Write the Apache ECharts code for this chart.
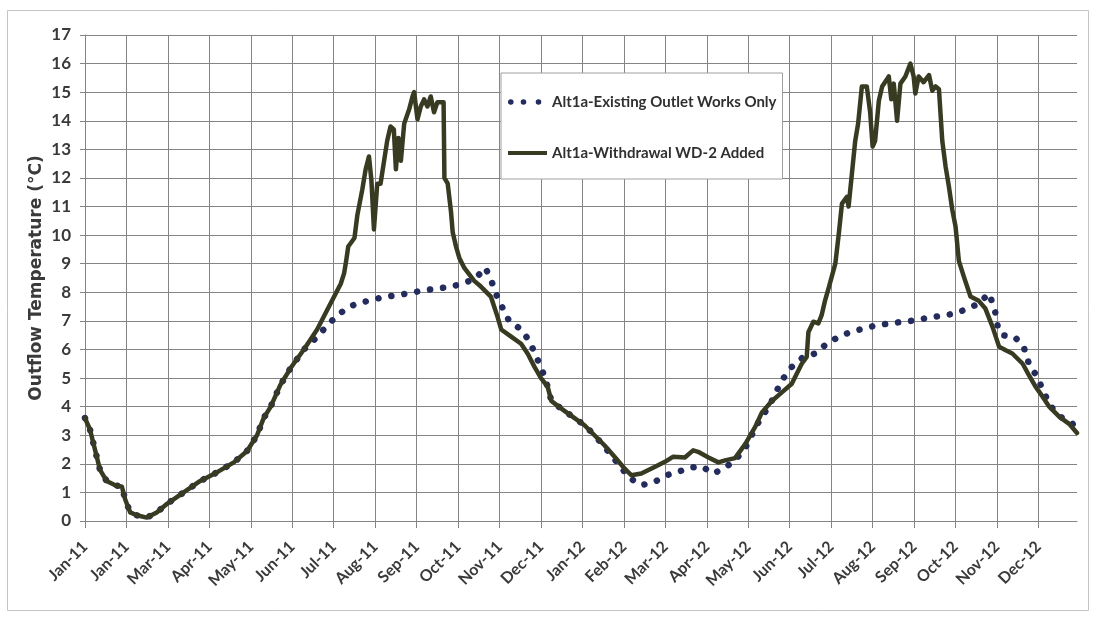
<!DOCTYPE html>
<html>
<head>
<meta charset="utf-8">
<title>Outflow Temperature</title>
<script src="https://cdn.jsdelivr.net/npm/echarts@6/dist/echarts.min.js"></script>
<style>
  html, body { margin: 0; padding: 0; background: #ffffff; }
  #chart { width: 1096px; height: 621px; }
</style>
</head>
<body>
<div id="chart"></div>
<script>
// Month tick labels (one per tick, x = month index from the start of 2011)
const tickLabels = [
  'Jan-11', 'Jan-11', 'Mar-11', 'Apr-11', 'May-11', 'Jun-11', 'Jul-11', 'Aug-11',
  'Sep-11', 'Oct-11', 'Nov-11', 'Dec-11', 'Jan-12', 'Feb-12', 'Mar-12', 'Apr-12',
  'May-12', 'Jun-12', 'Jul-12', 'Aug-12', 'Sep-12', 'Oct-12', 'Nov-12', 'Dec-12'
];

const seriesNames = ['Alt1a-Existing Outlet Works Only', 'Alt1a-Withdrawal WD-2 Added'];

// [month index, outflow temperature °C]
const existingOutlet = [
  [0, 3.6], [0.12, 3.2], [0.24, 2.5], [0.36, 1.8], [0.52, 1.4], [0.73, 1.25], [0.89, 1.2],
  [0.97, 0.75], [1.09, 0.3], [1.25, 0.2], [1.49, 0.12], [1.73, 0.3], [1.98, 0.6], [2.38, 1.0],
  [2.78, 1.4], [3.18, 1.7], [3.59, 2.05], [3.91, 2.45], [4.15, 3.0], [4.31, 3.6], [4.48, 4.0],
  [4.71, 4.75], [4.96, 5.35], [5.28, 6.0], [5.6, 6.44], [5.85, 6.85], [6.09, 7.2], [6.37, 7.49],
  [6.57, 7.61], [6.89, 7.72], [7.21, 7.84], [7.54, 7.9], [7.86, 7.98], [8.17, 8.07], [8.49, 8.13],
  [8.81, 8.19], [9.11, 8.31], [9.41, 8.47], [9.66, 8.86], [9.82, 8.33], [9.96, 7.78], [10.24, 6.97],
  [10.5, 6.73], [10.72, 6.3], [11.03, 5.27], [11.16, 4.7], [11.25, 4.2], [11.49, 3.93], [11.81, 3.6],
  [12.05, 3.35], [12.29, 3.0], [12.53, 2.6], [12.78, 2.15], [13.0, 1.75], [13.14, 1.5], [13.42, 1.25],
  [13.74, 1.37], [14.03, 1.6], [14.31, 1.72], [14.59, 1.87], [14.87, 1.91], [15.16, 1.66], [15.44, 1.87],
  [15.68, 2.12], [15.92, 2.53], [16.08, 3.0], [16.3, 3.6], [16.5, 4.0], [16.81, 4.92], [17.05, 5.39],
  [17.33, 5.74], [17.62, 5.86], [17.9, 6.21], [18.18, 6.44], [18.48, 6.62], [18.78, 6.73], [19.1, 6.85],
  [19.42, 6.91], [19.73, 6.97], [20.05, 7.02], [20.36, 7.12], [20.67, 7.18], [20.99, 7.26], [21.28, 7.42],
  [21.55, 7.6], [21.81, 7.96], [21.95, 7.37], [22.02, 6.79], [22.13, 6.5], [22.43, 6.44], [22.65, 6.06],
  [22.77, 5.5], [22.97, 5.04], [23.13, 4.5], [23.3, 4.0], [23.54, 3.64], [23.82, 3.41], [23.93, 3.1]
];

const withdrawalWD2 = [
  [0, 3.6], [0.12, 3.2], [0.24, 2.5], [0.36, 1.8], [0.52, 1.4], [0.73, 1.25], [0.89, 1.2],
  [0.97, 0.75], [1.09, 0.3], [1.25, 0.2], [1.49, 0.12], [1.73, 0.3], [1.98, 0.6], [2.38, 1.0],
  [2.78, 1.4], [3.18, 1.7], [3.59, 2.05], [3.91, 2.45], [4.15, 3.0], [4.31, 3.6], [4.48, 4.0],
  [4.71, 4.75], [4.96, 5.35], [5.28, 6.0], [5.6, 6.7], [5.92, 7.6], [6.17, 8.3], [6.25, 8.66],
  [6.3, 9.1], [6.35, 9.6], [6.5, 9.9], [6.57, 10.7], [6.69, 11.6], [6.77, 12.3], [6.85, 12.75],
  [6.91, 11.9], [6.97, 10.2], [7.05, 11.8], [7.13, 11.8], [7.29, 13.3], [7.37, 13.8], [7.45, 13.7],
  [7.5, 12.3], [7.56, 13.4], [7.62, 12.6], [7.7, 13.9], [7.82, 14.4], [7.9, 14.85], [7.94, 15.0],
  [8.02, 14.05], [8.1, 14.5], [8.18, 14.75], [8.26, 14.5], [8.34, 14.85], [8.42, 14.3], [8.5, 14.65],
  [8.65, 14.65], [8.67, 12.0], [8.75, 11.8], [8.83, 10.8], [8.87, 10.1], [8.95, 9.6], [9.03, 9.2],
  [9.15, 8.85], [9.39, 8.4], [9.55, 8.2], [9.79, 7.85], [9.95, 7.15], [10.04, 6.7], [10.28, 6.45],
  [10.52, 6.2], [10.68, 5.85], [10.84, 5.4], [11.0, 5.0], [11.16, 4.7], [11.25, 4.2], [11.49, 3.93],
  [11.81, 3.6], [12.05, 3.35], [12.29, 3.0], [12.53, 2.65], [12.78, 2.24], [13.02, 1.83], [13.18, 1.6],
  [13.42, 1.66], [13.74, 1.89], [13.99, 2.07], [14.19, 2.25], [14.47, 2.22], [14.67, 2.47], [14.79, 2.42],
  [15.04, 2.22], [15.28, 2.05], [15.44, 2.12], [15.68, 2.2], [15.93, 2.7], [16.17, 3.3], [16.33, 3.8],
  [16.57, 4.2], [16.81, 4.5], [17.05, 4.8], [17.13, 5.04], [17.29, 5.5], [17.41, 5.74], [17.45, 6.6],
  [17.57, 6.97], [17.69, 6.91], [17.77, 7.2], [17.85, 7.7], [17.93, 8.1], [18.1, 9.0], [18.18, 10.0],
  [18.26, 11.1], [18.38, 11.34], [18.42, 11.0], [18.5, 12.15], [18.58, 13.3], [18.65, 13.9], [18.74, 15.2],
  [18.86, 15.2], [18.94, 14.3], [19.0, 13.1], [19.06, 13.3], [19.15, 14.7], [19.23, 15.2], [19.39, 15.55],
  [19.45, 14.75], [19.51, 15.3], [19.59, 14.0], [19.67, 15.3], [19.79, 15.55], [19.91, 16.0], [19.99, 15.55],
  [20.03, 14.95], [20.11, 15.55], [20.23, 15.35], [20.36, 15.6], [20.44, 15.05], [20.52, 15.2], [20.6, 15.1],
  [20.68, 13.3], [20.76, 12.4], [20.84, 11.7], [20.92, 10.9], [21.0, 10.3], [21.08, 9.1], [21.2, 8.55],
  [21.36, 7.85], [21.56, 7.7], [21.72, 7.43], [21.89, 6.8], [22.05, 6.1], [22.21, 5.97], [22.37, 5.86],
  [22.62, 5.5], [22.77, 5.1], [22.93, 4.7], [23.1, 4.35], [23.26, 4.0], [23.5, 3.65], [23.74, 3.4],
  [23.93, 3.08]
];

const FONT = 'Lato, "Open Sans", sans-serif';
const TITLE_FONT = '"DejaVu Sans", sans-serif';
const GRID_COLOR = '#858585';
const TEXT_COLOR = '#3a3a3a';
const DOT_COLOR = '#232c5c';
const SOLID_COLOR = '#383b22';

// Legend keys: three round dots, and a thick bar (the leading moves fix the icon box size)
const DOT = (cx) => `M${cx - 2.8},8a2.8,2.8 0 1,0 5.6,0a2.8,2.8 0 1,0 -5.6,0Z`;
const ICON_DOTS = 'path://M0,0M39,16' + DOT(2.8) + DOT(15.5) + DOT(30.5);
const ICON_BAR = 'path://M0,0M39,16M0,6H39V10H0Z';

const chart = echarts.init(document.getElementById('chart'), null, { renderer: 'canvas' });

chart.setOption({
  backgroundColor: '#ffffff',
  animation: false,
  textStyle: { fontFamily: FONT },
  graphic: [{
    type: 'rect',
    shape: { x: 7.5, y: 10.5, width: 1081, height: 600 },
    style: { fill: 'none', stroke: '#c4c4c4', lineWidth: 1 },
    silent: true,
    z: -10
  }],
  grid: { left: 85, right: 19, top: 35, bottom: 100, containLabel: false },
  legend: {
    orient: 'vertical',
    left: 501,
    top: 73,
    padding: [21, 6, 18, 7],
    itemGap: 35,
    itemWidth: 39,
    itemHeight: 16,
    symbolKeepAspect: true,
    backgroundColor: '#ffffff',
    borderColor: '#a0a0a0',
    borderWidth: 1,
    textStyle: { fontFamily: FONT, fontSize: 15, fontWeight: 'bold', color: '#303030' },
    data: [
      { name: seriesNames[0], icon: ICON_DOTS },
      { name: seriesNames[1], icon: ICON_BAR }
    ]
  },
  xAxis: {
    type: 'value',
    min: 0,
    max: 23.93,
    interval: 1,
    axisLine: { show: true, lineStyle: { color: GRID_COLOR, width: 1 } },
    axisTick: { show: true, inside: false, length: 7, lineStyle: { color: GRID_COLOR } },
    splitLine: { show: true, showMaxLine: false, lineStyle: { color: GRID_COLOR, width: 1 } },
    axisLabel: {
      rotate: 45,
      margin: 23,
      fontFamily: FONT,
      fontSize: 16,
      fontWeight: 'bold',
      color: TEXT_COLOR,
      showMaxLabel: false,
      formatter: v => (Number.isInteger(v) && tickLabels[v] !== undefined) ? tickLabels[v] : ''
    }
  },
  yAxis: {
    type: 'value',
    min: 0,
    max: 17,
    interval: 1,
    name: 'Outflow Temperature (°C)',
    nameLocation: 'middle',
    nameGap: 40,
    nameMoveOverlap: false,
    nameTextStyle: { fontFamily: TITLE_FONT, fontSize: 17, fontWeight: 'bold', color: TEXT_COLOR },
    axisLine: { show: true, lineStyle: { color: GRID_COLOR, width: 1 } },
    axisTick: { show: true, inside: false, length: 5, lineStyle: { color: GRID_COLOR } },
    splitLine: { show: true, lineStyle: { color: GRID_COLOR, width: 1 } },
    axisLabel: {
      margin: 14,
      fontFamily: FONT,
      fontSize: 17,
      fontWeight: 'bold',
      color: TEXT_COLOR
    }
  },
  series: [
    {
      name: seriesNames[0],
      type: 'line',
      data: existingOutlet,
      symbol: 'none',
      smooth: false,
      lineStyle: { color: DOT_COLOR, width: 6.5, type: [0.1, 13], cap: 'round' },
      itemStyle: { color: DOT_COLOR },
      z: 2
    },
    {
      name: seriesNames[1],
      type: 'line',
      data: withdrawalWD2,
      symbol: 'none',
      smooth: false,
      lineStyle: { color: SOLID_COLOR, width: 4.5, join: 'round', cap: 'round' },
      itemStyle: { color: SOLID_COLOR },
      z: 3
    }
  ]
});
</script>
</body>
</html>
